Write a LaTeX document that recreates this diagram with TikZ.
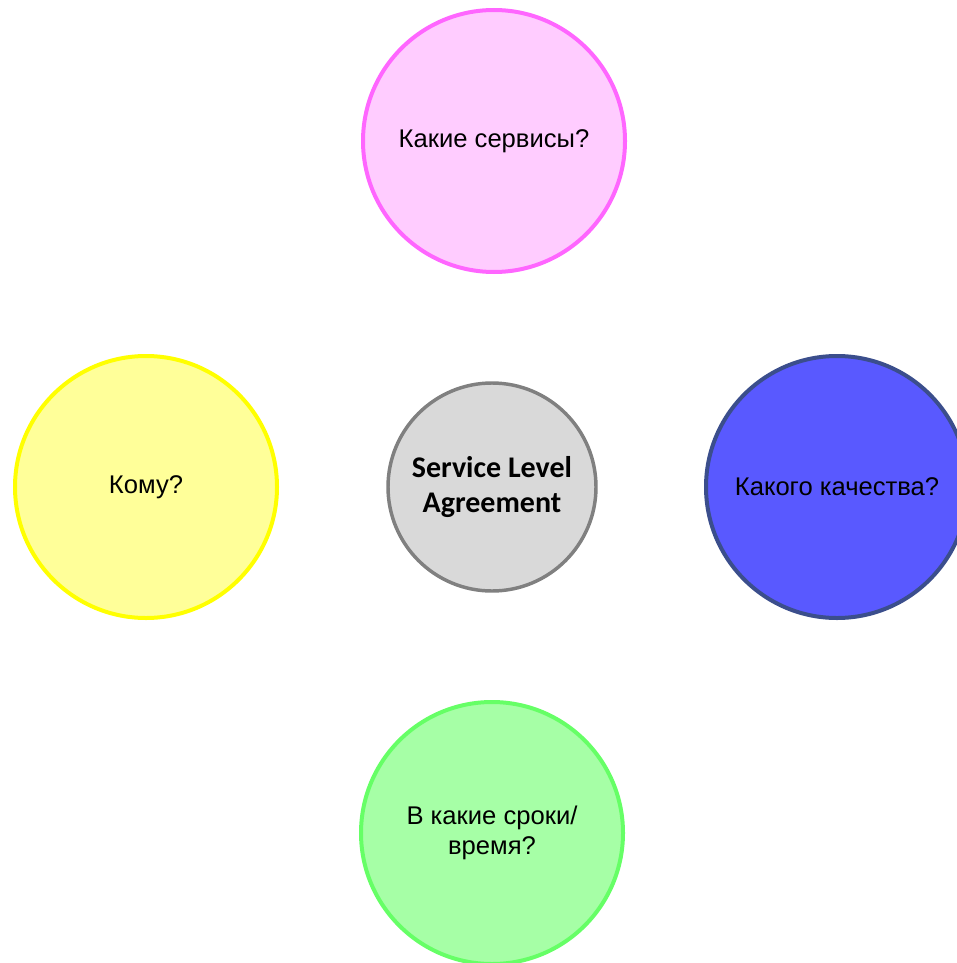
\documentclass[tikz,border=0pt]{standalone}
\usepackage{fontspec}
\setmainfont{Liberation Sans}
\newfontfamily\slafont{Carlito}

\definecolor{pinkfill}{HTML}{FFCCFF}
\definecolor{pinkline}{HTML}{FF66FF}
\definecolor{yellowfill}{HTML}{FFFF99}
\definecolor{yellowline}{HTML}{FFFF00}
\definecolor{grayfill}{HTML}{D9D9D9}
\definecolor{grayline}{HTML}{808080}
\definecolor{bluefill}{HTML}{5959FF}
\definecolor{blueline}{HTML}{3B4E8C}
\definecolor{greenfill}{HTML}{A6FFA6}
\definecolor{greenline}{HTML}{66FF66}

\tikzset{
  question/.style={circle, minimum size=262*0.75pt, inner sep=0pt,
    line width=3pt, align=center, font=\fontsize{19.2}{22.5}\selectfont},
  sla/.style={circle, minimum size=208*0.75pt, inner sep=0pt,
    line width=2.6pt, align=center, fill=grayfill, draw=grayline,
    font=\slafont\bfseries\fontsize{22.5}{26}\selectfont}
}

\begin{document}
\begin{tikzpicture}[x=0.75pt,y=-0.75pt]

% рамка
\useasboundingbox (0,0) rectangle (956,963);

% центр
\node[sla] (sla) at (492,487) {Service Level\\Agreement};

% вопросы
\node[question, fill=pinkfill, draw=pinkline] (what) at (494,141) {Какие сервисы?};
\node[question, fill=yellowfill, draw=yellowline] (whom) at (146,487) {Кому?};
\node[question, fill=bluefill, draw=blueline] (quality) at (837,487) {Какого качества?};
\node[question, fill=greenfill, draw=greenline] (when) at (492,833) {В какие сроки/\\время?};

\end{tikzpicture}
\end{document}
